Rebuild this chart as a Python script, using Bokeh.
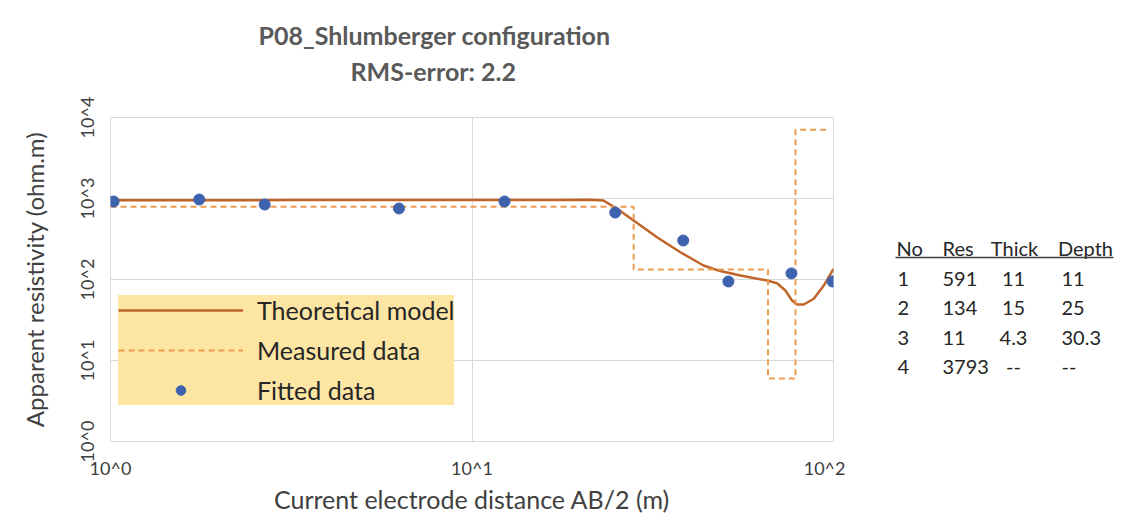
from bokeh.plotting import figure
from bokeh.layouts import row
from bokeh.models import (Legend, LegendItem, CustomJSTickFormatter, FixedTicker,
                          Range1d, Title)
from bokeh.core.properties import value
from bokeh.embed import file_html
from bokeh.resources import INLINE

# ---------------- data ----------------
title_lines = ["P08_Shlumberger configuration", "RMS-error: 2.2"]
x_title = "Current electrode distance AB/2 (m)"
y_title = "Apparent resistivity (ohm.m)"

# Fitted data (points)
x_fitted = [1.02, 1.76, 2.67, 6.28, 12.3, 24.9, 38.4, 51.2, 76.5, 99.4]
y_fitted = [918, 972, 843, 753, 918, 671, 303, 94.5, 119, 94.5]

# Theoretical model (smooth curve)
x_model = [1.0, 3.3, 8.7, 17.5, 21.2, 23.1, 25.2, 28.0, 32.5, 37.7, 43.7, 48.6, 55.3,
           65.5, 69.8, 73.6, 76.8, 79.3, 82.7, 88.2, 94.0, 100.0]
y_model = [950, 955, 955, 960, 965, 945, 746, 535, 333, 217, 149, 127, 112,
           97.2, 90, 73.1, 55.1, 49.1, 49.1, 57.8, 84.3, 135]

# Measured data (layered step curve)
x_measured = [1.0, 28.0, 65.9, 78.5, 96.5]
y_measured = [790, 133, 6.0, 7050, 7050]

x_ticks = [1, 10, 100]
y_ticks = [1, 10, 100, 1000, 10000]

# layer table
table_header = ["No", "Res", "Thick", "Depth"]
table_no = ["1", "2", "3", "4"]
table_res = ["591", "134", "11", "3793"]
table_thick = ["11", "15", "4.3", "--"]
table_depth = ["11", "25", "30.3", "--"]

FONT = "Lato"
TXT = "#404040"
H = 527
FL, FR, FT, FB = 110, 833, 117, 441   # frame edges on the page
WM = 845                              # width of the chart figure
WT = 1120 - WM                        # width of the table panel

p = figure(width=WM, height=H, x_axis_type="log", y_axis_type="log",
           x_range=Range1d(1, 100), y_range=Range1d(1, 10000),
           output_backend="svg", toolbar_location=None,
           min_border_left=FL, min_border_right=WM - FR,
           min_border_top=FT, min_border_bottom=H - FB)

p.outline_line_color = "#D9D9D9"
p.background_fill_color = "white"
p.border_fill_color = "white"

# titles: p.title is outermost, the added Title sits next to the frame
# (the trailing empty line of the second title keeps a gap above the frame)
p.title.text = title_lines[0]
p.add_layout(Title(text=title_lines[1] + "\n"), "above")
for tt, off in ((p.title, 148), (p.above[-1], 240)):
    tt.align = "left"
    tt.offset = off
    tt.text_font = FONT
    tt.text_font_size = "25px"
    tt.text_font_style = "bold"
    tt.text_color = "#595959"
p.above[-1].standoff = 4
p.title.standoff = 4

r_model = p.line(x_model, y_model, line_color="#C0652A", line_width=2.5)
r_meas = p.step(x_measured, y_measured, mode="after", line_color="#EE9B52",
                line_width=2, line_dash="6 4")
r_fit = p.scatter(x_fitted, y_fitted, size=11, fill_color="#3F62AE", line_color="#3F62AE")

fmt = CustomJSTickFormatter(code="return '10^' + Math.round(Math.log10(tick));")
for ax, ticks in ((p.xaxis, x_ticks), (p.yaxis, y_ticks)):
    ax.ticker = FixedTicker(ticks=ticks)
    ax.formatter = fmt
    ax.axis_line_color = None
    ax.major_tick_line_color = None
    ax.minor_tick_line_color = None
    ax.major_label_text_font = FONT
    ax.major_label_text_font_size = "18px"
    ax.major_label_text_color = TXT
    ax.axis_label_text_font = FONT
    ax.axis_label_text_font_style = "normal"
    ax.axis_label_text_color = TXT

p.xaxis.axis_label = x_title
p.yaxis.axis_label = y_title
p.xaxis.axis_label_text_font_size = "25px"
p.yaxis.axis_label_text_font_size = "24px"
p.yaxis.major_label_orientation = "vertical"
p.xaxis.major_label_standoff = 9
p.xaxis.axis_label_standoff = 2
p.yaxis.major_label_standoff = 7
p.yaxis.axis_label_standoff = 24

p.xgrid.ticker = FixedTicker(ticks=x_ticks)
p.ygrid.ticker = FixedTicker(ticks=y_ticks)
p.grid.grid_line_color = "#D9D9D9"
p.grid.minor_grid_line_color = None

legend = Legend(items=[LegendItem(label="Theoretical model", renderers=[r_model]),
                       LegendItem(label="Measured data", renderers=[r_meas]),
                       LegendItem(label="Fitted data", renderers=[r_fit])],
                location=(8, 36), orientation="vertical",
                background_fill_color="#FDE5A4", background_fill_alpha=1.0,
                border_line_color=None, label_text_font=FONT,
                label_text_font_size="25px", label_text_color="#262626",
                glyph_width=125, glyph_height=24, label_height=27, spacing=10,
                padding=12, margin=0, label_standoff=14)
p.add_layout(legend)

# ---------------- table panel (page-pixel coordinates, frame aligned with chart) ----------------
t = figure(width=WT, height=H, x_range=Range1d(WM, WM + WT), y_range=Range1d(FB, FT),
           output_backend="svg", toolbar_location=None, title=None,
           min_border_left=0, min_border_right=0,
           min_border_top=FT, min_border_bottom=H - FB, outline_line_color=None)
t.axis.visible = False
t.grid.visible = False
t.border_fill_color = "white"
t.background_fill_color = "white"

tstyle = dict(text_font=value(FONT), text_font_size="20px", text_color="#262626",
              text_baseline="middle")
hdr_x = [896, 942, 1014, 1085]
hdr_align = ["left", "left", "center", "center"]
for txt, xx, al in zip(table_header, hdr_x, hdr_align):
    t.text(x=[xx], y=[247], text=[txt], text_align=al, **tstyle)
t.line(x=[895, 1113], y=[257, 257], line_color="#404040", line_width=1.5)
row_y = [278, 307, 337, 366]
cols = [(table_no, 897, "left"), (table_res, 942, "left"),
        (table_thick, 1013, "center"), (table_depth, 1061, "left")]
for vals, xx, al in cols:
    t.text(x=[xx] * len(vals), y=row_y, text=vals, text_align=al, **tstyle)

layout = row(p, t)
open("out.html", "w").write(file_html(layout, INLINE))
